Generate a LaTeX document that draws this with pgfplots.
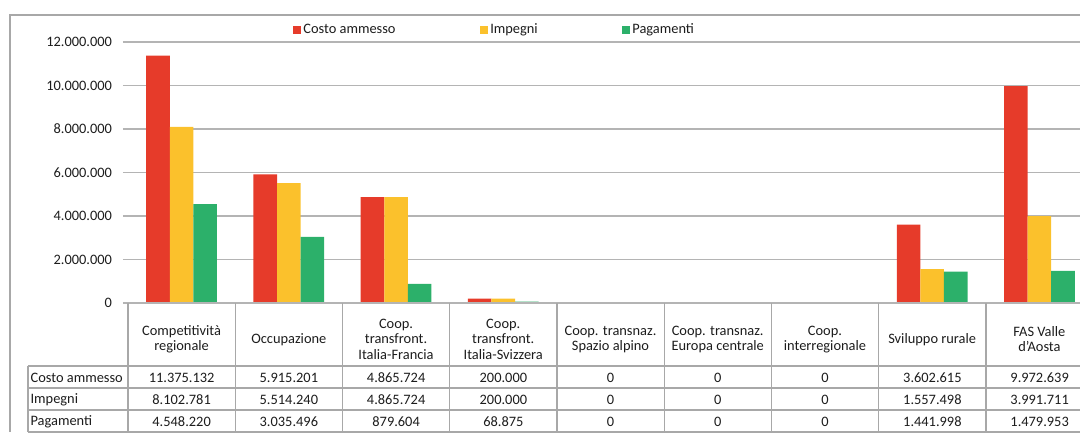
\documentclass[border=0pt]{standalone}
\usepackage{pgfplots}
\pgfplotsset{compat=1.18}
\usepackage{pgfplotstable}
\usepackage{fontspec}
\setmainfont{Carlito}

\definecolor{costo}{HTML}{E63B2A}
\definecolor{impegni}{HTML}{FBC12C}
\definecolor{pagam}{HTML}{2CB06A}
\definecolor{griglia}{HTML}{B4B4B4}
\definecolor{bordo}{HTML}{A8A8A8}
\definecolor{testo}{HTML}{1C1C1C}

\pgfplotsset{quadretto/.style={legend image code/.code={\fill[##1] (0pt,-3pt) rectangle (6pt,3pt);}}}
\pgfkeys{/pgf/number format/.cd, fixed, precision=0, 1000 sep={.}, assume math mode=true}

% valori per programma
\pgfplotstableread{
x costo impegni pagamenti
0 11375132 8102781 4548220
1 5915201 5514240 3035496
2 4865724 4865724 879604
3 200000 200000 68875
4 0 0 0
5 0 0 0
6 0 0 0
7 3602615 1557498 1441998
8 9972639 3991711 1479953
}\datatable

\begin{document}
\fontsize{10.8pt}{11.4pt}\selectfont
\color{testo}
% origine = angolo in basso a sinistra dell'area del grafico (px 128,303 del riferimento)
\begin{tikzpicture}
\begin{scope}
\clip (-96pt,227.25pt) rectangle ++(810pt,-324pt);
\begin{axis}[
    anchor=south west,
    scale only axis,
    width=723.75pt, height=195.75pt,
    ybar=0pt, bar width=0.22,
    xmin=-0.5, xmax=8.5,
    ymin=0, ymax=12000000,
    axis line style={draw=none},
    xtick={0,...,8},
    xticklabels={Competitività\\regionale, Occupazione, Coop.\\transfront.\\Italia-Francia,
        Coop.\\transfront.\\Italia-Svizzera, Coop. transnaz.\\Spazio alpino,
        Coop. transnaz.\\Europa centrale, Coop.\\interregionale, Sviluppo rurale, FAS Valle\\d'Aosta},
    xtick style={draw=none},
    xticklabel style={align=center, anchor=center, yshift=-23.5pt},
    ytick={0,2000000,...,12000000},
    ytick pos=left,
    tick align=outside,
    major tick length=3.75pt,
    ytick style={griglia, line width=0.9pt},
    scaled y ticks=false,
    yticklabel style={xshift=-4.5pt, /pgf/number format/.cd, fixed, 1000 sep={.}, assume math mode=true},
    ymajorgrids,
    grid style={griglia, line width=0.9pt},
    legend columns=3,
    legend style={draw=none, fill=none, at={(axis description cs:0.380,1)}, anchor=center,
        yshift=9pt, /tikz/every even column/.append style={column sep=61pt},
        nodes={inner xsep=2pt}},
]
\addplot[fill=costo, draw=none, quadretto] table[x=x, y=costo] {\datatable};
\addplot[fill=impegni, draw=none, quadretto] table[x=x, y=impegni] {\datatable};
\addplot[fill=pagam, draw=none, quadretto] table[x=x, y=pagamenti] {\datatable};
\legend{Costo ammesso, Impegni, Pagamenti}
\end{axis}

% tutto il resto in px del riferimento, y verso il basso
\begin{scope}[shift={(-96pt,227.25pt)}, x=0.75pt, y=-0.75pt]
% cornice esterna
\draw[bordo, line width=0.9pt] (10,432) -- (10,15) -- (1080,15);
% tabella dati
\draw[griglia, line width=0.9pt] (128,303) -- (1093,303);
\foreach \k in {0,...,9}
    \draw[bordo, line width=0.9pt] ({128+\k*107.25},303) -- ({128+\k*107.25},432);
\foreach \r in {366,388,410,432}
    \draw[bordo, line width=0.9pt] (28,\r) -- (1093,\r);
\draw[bordo, line width=0.9pt] (28,366) -- (28,432);
\node[anchor=west, inner xsep=1pt] at (29,377.5) {Costo ammesso};
\node[anchor=west, inner xsep=1pt] at (29,399.5) {Impegni};
\node[anchor=west, inner xsep=1pt] at (29,421.5) {Pagamenti};
\foreach \i in {0,...,8}{
    \pgfplotstablegetelem{\i}{costo}\of\datatable
    \node at ({128+(\i+0.5)*107.25},377.5) {\pgfmathprintnumber{\pgfplotsretval}};
    \pgfplotstablegetelem{\i}{impegni}\of\datatable
    \node at ({128+(\i+0.5)*107.25},399.5) {\pgfmathprintnumber{\pgfplotsretval}};
    \pgfplotstablegetelem{\i}{pagamenti}\of\datatable
    \node at ({128+(\i+0.5)*107.25},421.5) {\pgfmathprintnumber{\pgfplotsretval}};
}
\end{scope}
\end{scope}
\pgfresetboundingbox
\useasboundingbox (-96pt,227.25pt) rectangle ++(810pt,-324pt);
\end{tikzpicture}
\end{document}
